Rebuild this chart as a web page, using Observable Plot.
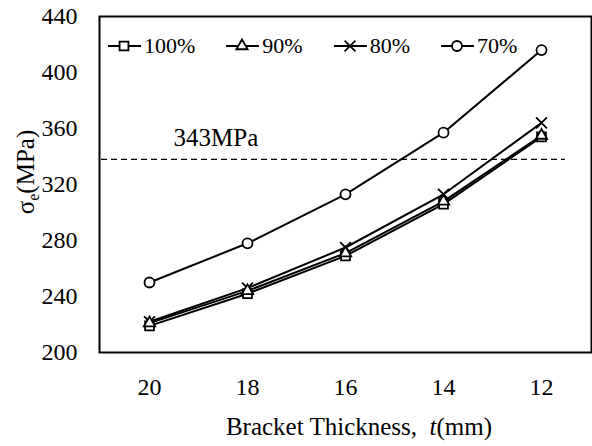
<!DOCTYPE html>
<html>
<head>
<meta charset="utf-8">
<script src="https://cdn.jsdelivr.net/npm/d3@7"></script>
<script src="https://cdn.jsdelivr.net/npm/@observablehq/plot@0.6"></script>
<style>
  html, body { margin: 0; padding: 0; background: #fff; }
  #wrap { position: relative; width: 592px; height: 446px; font-family: "Liberation Serif", "Times New Roman", serif; }
  #wrap svg text { font-family: "Liberation Serif", "Times New Roman", serif; }
  #legend { position: absolute; left: 108px; top: 34px; display: flex; gap: 31px; font-size: 22px; line-height: 24px; color: #000; font-family: "Liberation Serif", "Times New Roman", serif; }
  #legend .item { display: flex; align-items: center; }
  #legend .item span { margin-left: 3px; }
</style>
</head>
<body>
<div id="wrap"><div id="legend"></div></div>
<script>
const thickness = ["20", "18", "16", "14", "12"];
const seriesNames = ["100%", "90%", "80%", "70%"];
const s100 = [219, 242, 269, 306, 354];
const s90  = [221, 244, 271, 308, 355];
const s80  = [222, 246, 275, 313, 364];
const s70  = [250, 278, 313, 357, 416];
const yTicks = [200, 240, 280, 320, 360, 400, 440];
const refValue = 338;
const refLabel = "343MPa";
const symbols = {"100%": "square", "90%": "triangle", "80%": "times", "70%": "circle"};
const symbolR = {"100%": 5, "90%": 4.2, "80%": 5, "70%": 5};

const seriesValues = [s100, s90, s80, s70];
const data = [];
seriesNames.forEach((name, i) => {
  thickness.forEach((t, j) => data.push({series: name, t, value: seriesValues[i][j]}));
});

const FONT = "'Liberation Serif', 'Times New Roman', serif";

const plot = Plot.plot({
  width: 592,
  height: 446,
  marginLeft: 99,
  marginRight: 1,
  marginTop: 16,
  marginBottom: 94,
  style: {fontFamily: FONT, fontSize: "24px", color: "#000", background: "#fff"},
  x: {type: "point", domain: thickness, padding: 0.5, tickSize: 0, tickPadding: 25, label: null},
  y: {domain: [200, 440], ticks: yTicks, tickSize: 0, tickPadding: 22, label: null},
  r: {type: "identity"},
  marks: [
    Plot.ruleY([refValue], {stroke: "#000", strokeWidth: 1.2, strokeDasharray: "6,4", insetLeft: 2, insetRight: 26}),
    Plot.text([refLabel], {x: () => thickness[0], y: () => refValue, text: d => d, textAnchor: "start", dx: 24, dy: -21, fontSize: 25, fill: "#000"}),
    Plot.line(data, {x: "t", y: "value", z: "series", stroke: "#000", strokeWidth: 2}),
    Plot.dot(data, {x: "t", y: "value", symbol: d => symbols[d.series], r: d => symbolR[d.series], stroke: "#000", strokeWidth: 1.8, fill: d => d.series === "80%" ? "none" : "#fff"}),
    Plot.frame({stroke: "#000", strokeWidth: 2})
  ]
});

const wrap = document.getElementById("wrap");
wrap.insertBefore(plot, wrap.firstChild);

const svg = d3.select(plot);
// x-axis title
const xt = svg.append("text")
  .attr("x", 359).attr("y", 435)
  .attr("text-anchor", "middle")
  .attr("font-family", FONT)
  .attr("font-size", 25).attr("fill", "#000");
xt.append("tspan").text("Bracket Thickness,  ");
xt.append("tspan").attr("font-style", "italic").text("t");
xt.append("tspan").text("(mm)");
// y-axis title
const yt = svg.append("text")
  .attr("transform", "translate(34,172) rotate(-90)")
  .attr("text-anchor", "middle")
  .attr("font-family", FONT)
  .attr("font-size", 25).attr("fill", "#000");
yt.append("tspan").text("σ");
yt.append("tspan").attr("font-size", 16).attr("dy", 5).text("e");
yt.append("tspan").attr("dy", -5).text("(MPa)");

// legend
const legend = d3.select("#legend");
const symMap = {square: d3.symbolSquare, triangle: d3.symbolTriangle, times: d3.symbolTimes, circle: d3.symbolCircle};
seriesNames.forEach(name => {
  const item = legend.append("div").attr("class", "item");
  const s = item.append("svg").attr("width", 33).attr("height", 16);
  s.append("line").attr("x1", 0).attr("x2", 33).attr("y1", 8).attr("y2", 8).attr("stroke", "#000").attr("stroke-width", 2);
  s.append("path")
    .attr("transform", "translate(16,8)")
    .attr("d", d3.symbol(symMap[symbols[name]], Math.PI * symbolR[name] * symbolR[name])())
    .attr("fill", name === "80%" ? "none" : "#fff")
    .attr("stroke", "#000").attr("stroke-width", 1.8);
  item.append("span").text(name);
});
</script>
</body>
</html>
